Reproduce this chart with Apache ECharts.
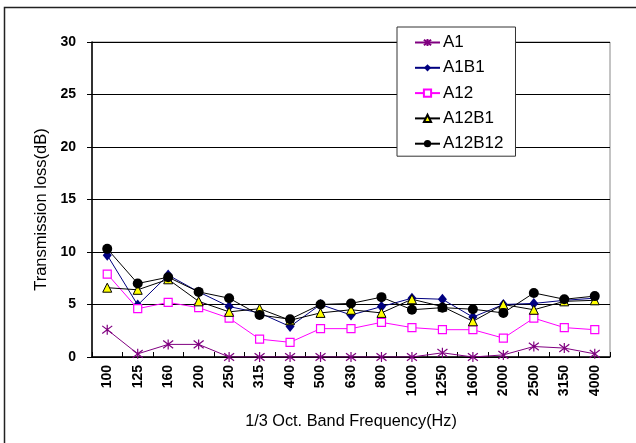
<!DOCTYPE html>
<html>
<head>
<meta charset="utf-8">
<script src="https://cdn.jsdelivr.net/npm/echarts@6/dist/echarts.min.js"></script>
<style>html,body{margin:0;padding:0;background:#fff;}#c{width:636px;height:443px;}</style>
</head>
<body>
<div id="c"></div>
<script>
var categories = ['100','125','160','200','250','315','400','500','630','800','1000','1250','1600','2000','2500','3150','4000'];
var A1     = [2.6, 0.3, 1.2, 1.2, 0.0, 0.0, 0.0, 0.0, 0.0, 0.0, 0.0, 0.4, 0.0, 0.2, 1.0, 0.85, 0.3];
var A1B1   = [9.7, 4.95, 7.8, 6.2, 4.8, 4.2, 2.9, 5.0, 4.0, 4.8, 5.6, 5.5, 3.8, 5.0, 5.1, 5.4, 5.6];
var A12    = [7.9, 4.6, 5.2, 4.7, 3.7, 1.7, 1.4, 2.7, 2.7, 3.3, 2.8, 2.6, 2.6, 1.8, 3.7, 2.8, 2.6];
var A12B1  = [6.6, 6.4, 7.4, 5.3, 4.3, 4.6, 3.5, 4.2, 4.5, 4.2, 5.5, 4.8, 3.4, 5.0, 4.5, 5.3, 5.4];
var A12B12 = [10.3, 7.0, 7.6, 6.2, 5.6, 4.0, 3.6, 5.0, 5.1, 5.7, 4.5, 4.7, 4.55, 4.2, 6.1, 5.5, 5.8];
var yTicks = [0, 5, 10, 15, 20, 25, 30];

var FONT = '"Liberation Sans", Arial, sans-serif';
var asterisk = 'path://M-1,-1L1,1M1,-1L-1,1M0,-1.3L0,1.3';

var chart = echarts.init(document.getElementById('c'), null, {renderer: 'canvas'});
chart.setOption({
  animation: false,
  backgroundColor: '#fff',
  graphic: [{
    type: 'rect', silent: true, z: -10,
    shape: {x: 4.5, y: 7.5, width: 700, height: 500},
    style: {fill: 'none', stroke: '#222', lineWidth: 1.5}
  }],
  grid: {left: 92, right: 26, top: 42, bottom: 86, show: true, borderColor: '#888', borderWidth: 1, backgroundColor: 'transparent'},
  legend: {
    left: 397, top: 27, orient: 'vertical',
    backgroundColor: '#fff', borderColor: '#333', borderWidth: 1,
    padding: [7, 12, 4, 17], itemGap: 8.3, itemWidth: 25, itemHeight: 9,
    textStyle: {fontFamily: FONT, fontSize: 17, color: '#000', padding: [0, 0, 0, -2]},
    data: ['A1', 'A1B1', 'A12', 'A12B1', 'A12B12']
  },
  xAxis: {
    type: 'category', data: categories, boundaryGap: true,
    name: '1/3 Oct. Band Frequency(Hz)', nameLocation: 'middle', nameGap: 57,
    nameTextStyle: {fontFamily: FONT, fontSize: 16.3, color: '#000'},
    axisLine: {lineStyle: {color: '#000', width: 1.5}},
    axisTick: {show: true, inside: true, length: 5, lineStyle: {color: '#000'}},
    axisLabel: {rotate: 90, interval: 0, margin: 8, fontFamily: FONT, fontSize: 14, fontWeight: 'bold', color: '#000'},
    splitLine: {show: false}
  },
  yAxis: {
    type: 'value', min: 0, max: 30, interval: 5,
    name: 'Transmission loss(dB)', nameLocation: 'middle', nameGap: 42,
    nameTextStyle: {fontFamily: FONT, fontSize: 16.5, color: '#000', padding: [0, 20, 0, 0]},
    axisLine: {show: true, lineStyle: {color: '#000', width: 1.5}},
    axisTick: {show: true, inside: false, length: 5, lineStyle: {color: '#000'}},
    axisLabel: {margin: 16, fontFamily: FONT, fontSize: 14, fontWeight: 'bold', color: '#000',
      formatter: function (v) { return yTicks.indexOf(v) >= 0 ? String(v) : ''; }},
    splitLine: {show: true, lineStyle: {color: '#000', width: 1}}
  },
  series: [
    {name: 'A1', type: 'line', data: A1, symbol: asterisk, symbolSize: 10,
      lineStyle: {color: '#800080', width: 1}, itemStyle: {color: '#800080', borderColor: '#800080', borderWidth: 1.2}},
    {name: 'A1B1', type: 'line', data: A1B1, symbol: 'diamond', symbolSize: [9, 11],
      lineStyle: {color: '#000080', width: 1}, itemStyle: {color: '#000080', borderColor: '#000080', borderWidth: 0}},
    {name: 'A12', type: 'line', data: A12, symbol: 'rect', symbolSize: 8,
      lineStyle: {color: '#ff00ff', width: 1}, itemStyle: {color: '#fff', borderColor: '#ff00ff', borderWidth: 1.2}},
    {name: 'A12B1', type: 'line', data: A12B1, symbol: 'triangle', symbolSize: 9,
      lineStyle: {color: '#000', width: 1}, itemStyle: {color: '#ffff00', borderColor: '#000', borderWidth: 1}},
    {name: 'A12B12', type: 'line', data: A12B12, symbol: 'circle', symbolSize: 10,
      lineStyle: {color: '#000', width: 1}, itemStyle: {color: '#000', borderColor: '#000', borderWidth: 0}}
  ]
});
</script>
</body>
</html>
